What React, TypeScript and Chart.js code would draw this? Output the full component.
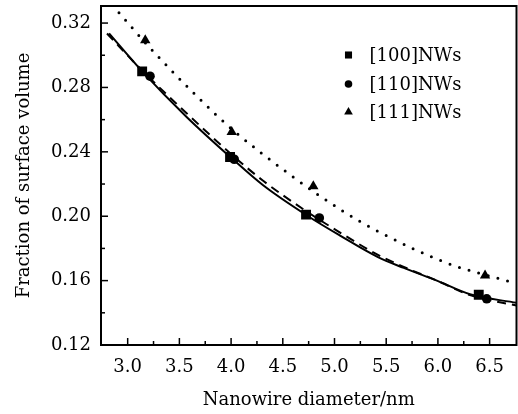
import React, { useEffect, useRef } from 'react';
import { Chart, registerables } from 'chart.js';

Chart.register(...registerables);

// ---- data ----
const xMin = 2.742;
const xMax = 6.76;
const yMin = 0.12;
const yMax = 0.3306;

const xMajorTicks = [3.0, 3.5, 4.0, 4.5, 5.0, 5.5, 6.0, 6.5];
const xMinorTicks = [3.25, 3.75, 4.25, 4.75, 5.25, 5.75, 6.25];
const yMajorTicks = [0.12, 0.16, 0.2, 0.24, 0.28, 0.32];
const yMinorTicks = [0.14, 0.18, 0.22, 0.26, 0.3];

const nw100X = [3.14, 3.99, 4.725, 6.395];
const nw100Y = [0.29, 0.2368, 0.201, 0.1512];
const nw110X = [3.216, 4.03, 4.853, 6.472];
const nw110Y = [0.287, 0.2354, 0.1989, 0.1487];
const nw111X = [3.17, 4.006, 4.795, 6.456];
const nw111Y = [0.3094, 0.2524, 0.2186, 0.1632];

const solidX = [2.82, 3.14, 3.57, 4.02, 4.31, 4.73, 5.05, 5.42, 5.67, 5.99, 6.31, 6.76];
const solidY = [0.3136, 0.29, 0.2617, 0.2352, 0.2192, 0.2006, 0.1881, 0.1746, 0.1679, 0.16, 0.1515, 0.1462];
const dashedX = [2.8, 3.14, 3.57, 4.02, 4.31, 4.73, 5.05, 5.42, 5.67, 5.99, 6.31, 6.76];
const dashedY = [0.3135, 0.2905, 0.264, 0.2375, 0.222, 0.203, 0.19, 0.176, 0.1685, 0.16, 0.151, 0.1445];
const dottedX = [2.916, 3.22, 3.69, 4.01, 4.6, 5.088, 5.42, 6.08, 6.73];
const dottedY = [0.3264, 0.3043, 0.2732, 0.254, 0.2244, 0.2029, 0.1906, 0.1711, 0.1587];

const legendLabels = ['[100]NWs', '[110]NWs', '[111]NWs'];
const xTitle = 'Nanowire diameter/nm';
const yTitle = 'Fraction of surface volume';

const FONT_FAMILY = '"DejaVu Serif", "Liberation Serif", serif';
const FONT_SIZE = 18;

const zip = (xs: number[], ys: number[]) => xs.map((x, i) => ({ x, y: ys[i] }));

function drawMarker(ctx: CanvasRenderingContext2D, style: string, x: number, y: number, r: number) {
  ctx.beginPath();
  if (style === 'rect') {
    const s = r * Math.SQRT1_2;
    ctx.rect(x - s, y - s, 2 * s, 2 * s);
  } else if (style === 'circle') {
    ctx.arc(x, y, r, 0, Math.PI * 2);
  } else {
    const a = (Math.PI * 2) / 3;
    ctx.moveTo(x, y - r);
    ctx.lineTo(x + Math.sin(a) * r, y - Math.cos(a) * r);
    ctx.lineTo(x - Math.sin(a) * r, y - Math.cos(a) * r);
    ctx.closePath();
  }
  ctx.fill();
}

const framePlugin = {
  id: 'frameTicksLegend',
  afterDatasetsDraw(chart: any) {
    const { ctx, chartArea } = chart;
    const xs = chart.scales.x;
    const ys = chart.scales.y;
    ctx.save();
    ctx.strokeStyle = '#000';
    ctx.lineWidth = 2;
    ctx.strokeRect(chartArea.left, chartArea.top, chartArea.right - chartArea.left, chartArea.bottom - chartArea.top);
    ctx.lineWidth = 1.5;
    const tick = (x1: number, y1: number, x2: number, y2: number) => {
      ctx.beginPath();
      ctx.moveTo(x1, y1);
      ctx.lineTo(x2, y2);
      ctx.stroke();
    };
    xMajorTicks.forEach((v) => { const p = xs.getPixelForValue(v); tick(p, chartArea.bottom, p, chartArea.bottom - 7); });
    xMinorTicks.forEach((v) => { const p = xs.getPixelForValue(v); tick(p, chartArea.bottom, p, chartArea.bottom - 4); });
    yMajorTicks.forEach((v) => { const p = ys.getPixelForValue(v); tick(chartArea.left, p, chartArea.left + 7, p); });
    yMinorTicks.forEach((v) => { const p = ys.getPixelForValue(v); tick(chartArea.left, p, chartArea.left + 4, p); });

    // legend
    const mx = chartArea.right - 168;
    const rows = [chartArea.top + 49, chartArea.top + 78, chartArea.top + 106];
    const styles = ['rect', 'circle', 'triangle'];
    const radii = [5, 3.8, 5];
    ctx.fillStyle = '#000';
    rows.forEach((ry, i) => {
      drawMarker(ctx, styles[i], mx, ry, radii[i]);
      ctx.font = `${FONT_SIZE}px ${FONT_FAMILY}`;
      ctx.textAlign = 'left';
      ctx.textBaseline = 'middle';
      ctx.fillText(legendLabels[i], mx + 21, ry + 1);
    });
    ctx.restore();
  },
};

export default function App() {
  const ref = useRef<HTMLCanvasElement | null>(null);
  useEffect(() => {
    if (!ref.current) return;
    const font = { family: FONT_FAMILY, size: FONT_SIZE };
    const chart = new Chart(ref.current, {
      type: 'scatter',
      data: {
        datasets: [
          { data: zip(solidX, solidY), showLine: true, borderColor: '#000', borderWidth: 2, pointRadius: 0, cubicInterpolationMode: 'monotone', fill: false },
          { data: zip(dashedX, dashedY), showLine: true, borderColor: '#000', borderWidth: 2, borderDash: [9, 6], pointRadius: 0, cubicInterpolationMode: 'monotone', fill: false },
          { data: zip(dottedX, dottedY), showLine: true, borderColor: '#000', borderWidth: 3, borderDash: [0, 10], borderCapStyle: 'round', pointRadius: 0, cubicInterpolationMode: 'monotone', fill: false },
          { data: zip(nw100X, nw100Y), pointStyle: 'rect', pointRadius: 7, backgroundColor: '#000', borderColor: '#000', borderWidth: 0 },
          { data: zip(nw110X, nw110Y), pointStyle: 'circle', pointRadius: 4.8, backgroundColor: '#000', borderColor: '#000', borderWidth: 0 },
          { data: zip(nw111X, nw111Y), pointStyle: 'triangle', pointRadius: 6, backgroundColor: '#000', borderColor: '#000', borderWidth: 0 },
        ] as any,
      },
      options: {
        animation: false,
        responsive: false,
        layout: { autoPadding: false, padding: { left: 0, right: 1.5, top: 6, bottom: 0 } },
        plugins: { legend: { display: false }, tooltip: { enabled: false } },
        scales: {
          x: {
            type: 'linear',
            min: xMin,
            max: xMax,
            afterBuildTicks: (s: any) => { s.ticks = xMajorTicks.map((v) => ({ value: v })); },
            afterFit: (s: any) => { s.height = 69; s.paddingLeft = 0; s.paddingRight = 0; },
            ticks: { callback: (v: any) => Number(v).toFixed(1), font, color: '#000', padding: 12, maxRotation: 0, autoSkip: false },
            grid: { display: false, drawTicks: false },
            border: { display: false },
            title: { display: true, text: xTitle, font, color: '#000', padding: { top: 0, bottom: 3 } },
          },
          y: {
            type: 'linear',
            min: yMin,
            max: yMax,
            afterBuildTicks: (s: any) => { s.ticks = yMajorTicks.map((v) => ({ value: v })); },
            afterFit: (s: any) => { s.width = 101; s.paddingTop = 0; s.paddingBottom = 0; },
            ticks: { callback: (v: any) => Number(v).toFixed(2), font, color: '#000', padding: 10, autoSkip: false },
            grid: { display: false, drawTicks: false },
            border: { display: false },
            title: { display: true, text: yTitle, font, color: '#000', padding: { top: 14, bottom: 0 } },
          },
        },
      } as any,
      plugins: [framePlugin],
    });
    return () => chart.destroy();
  }, []);
  return (
    <div style={{ position: 'fixed', left: 0, top: 0, width: 518, height: 414, background: '#fff' }}>
      <canvas ref={ref} width={518} height={414} style={{ display: 'block' }} />
    </div>
  );
}
